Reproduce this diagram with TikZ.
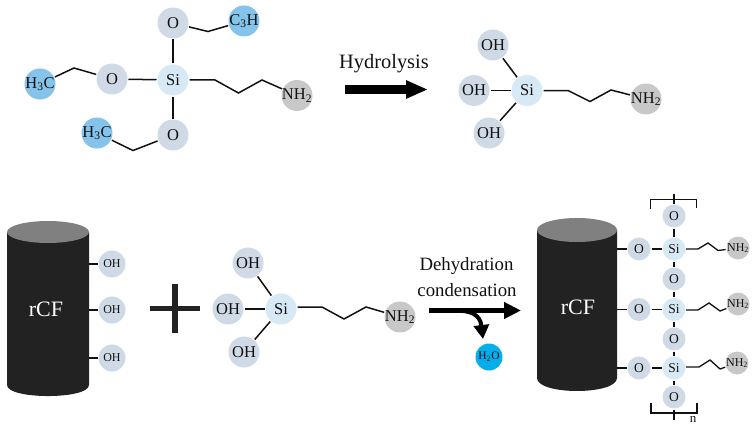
\documentclass[tikz,border=0pt]{standalone}
\usepackage{fontspec}
\setmainfont{Liberation Serif}
\usetikzlibrary{arrows.meta}
\definecolor{oxy}{HTML}{CFDAE6}
\definecolor{sil}{HTML}{D8E9F6}
\definecolor{carb}{HTML}{86C3EA}
\definecolor{amine}{HTML}{C9C8C8}
\definecolor{water}{HTML}{05AEEA}
\definecolor{fibre}{HTML}{222222}
\definecolor{fibretop}{HTML}{808080}
\definecolor{ink}{HTML}{111111}
\newcommand{\fs}[1]{\fontsize{#1}{#1}\selectfont}
\newcommand{\T}[1]{\makebox[0pt][c]{#1}}
\newcommand{\sub}[1]{\textsubscript{#1}}
\tikzset{
  atom/.style={circle,inner sep=0pt,outer sep=1pt,minimum size=31pt,text=ink,font=\fs{16.5}},
  sm/.style={atom,minimum size=23pt,font=\fs{13.5}},
  tiny/.style={atom,minimum size=27pt,font=\fs{12}},
  ox/.style={fill=oxy},
  si/.style={fill=sil},
  cc/.style={fill=carb},
  am/.style={fill=amine},
  bond/.style={draw=ink,line width=1.5pt,line join=miter},
  thinbond/.style={bond,line width=1.3pt},
  label/.style={inner sep=0pt,text=ink},
  bigarrow/.style={draw=black,-{Triangle[length=22pt,width=17pt]}},
}
\begin{document}
\begin{tikzpicture}[x=1pt,y=-1pt]
\useasboundingbox (0,0) rectangle (755,428);

% ---------- top-left molecule
\node[atom,si] (s1) at (173,80) {\T{Si}};
\node[atom,ox] (o1t) at (173,23) {\T{O}};
\node[atom,ox] (o1l) at (112,79) {\T{O}};
\node[atom,ox] (o1b) at (173,135) {\T{O}};
\node[atom,cc] (c1t) at (244,21) {\T{C\sub{3}H}};
\node[atom,cc] (c1l) at (40,84) {\T{H\sub{3}C}};
\node[atom,cc] (c1b) at (97,133) {\T{H\sub{3}C}};
\node[atom,am] (n1) at (297,95.5) {\T{NH\sub{2}}};
\coordinate (e1t) at (208,31.5);
\coordinate (e1l) at (74,68);
\coordinate (e1b) at (133,150.5);
\coordinate (a1) at (215,80);
\coordinate (a2) at (238.5,93);
\coordinate (a3) at (262,80);
\draw[bond] (s1) -- (o1t);
\draw[bond] (s1) -- (o1l);
\draw[bond] (s1) -- (o1b);
\draw[bond] (o1t) -- (e1t) -- (c1t);
\draw[bond] (c1l) -- (e1l) -- (o1l);
\draw[bond] (c1b) -- (e1b) -- (o1b);
\draw[bond] (s1) -- (a1) -- (a2) -- (a3) -- (n1);

% ---------- hydrolysis arrow
\node[label,font=\fs{20.4}] (hyd) at (384,64) {Hydrolysis};
\coordinate (h1) at (345,89.5);
\coordinate (h2) at (428,89.5);
\draw[bigarrow,line width=9pt] (h1) -- (h2);

% ---------- top-right molecule
\node[atom,si] (s2) at (527,90.5) {\T{Si}};
\node[atom,ox] (o2t) at (493,45) {\T{OH}};
\node[atom,ox] (o2m) at (474,90.5) {\T{OH}};
\node[atom,ox] (o2b) at (489,133) {\T{OH}};
\node[atom,am] (n2) at (646,99) {\T{NH\sub{2}}};
\coordinate (b1) at (568,90.5);
\coordinate (b2) at (590,101.5);
\coordinate (b3) at (611,90);
\draw[bond] (s2) -- (o2t);
\draw[bond] (s2) -- (o2m);
\draw[bond] (s2) -- (o2b);
\draw[bond] (s2) -- (b1) -- (b2) -- (b3) -- (n2);

% ---------- left fibre
\fill[fibre] (7,232) -- (7,385) .. controls (7,399.7) and (89,399.7) .. (89,385) -- (89,232) -- cycle;
\fill[fibretop] (48,232) ellipse [x radius=41,y radius=11];
\node[label,text=white,font=\fs{22}] (rcf1) at (46,309) {rCF};
\coordinate (f1) at (89,264);
\coordinate (f2) at (89,310);
\coordinate (f3) at (89,358);
\node[tiny,ox] (h1a) at (112,264) {\T{OH}};
\node[tiny,ox] (h1b) at (112,310) {\T{OH}};
\node[tiny,ox] (h1c) at (112,358) {\T{OH}};
\draw[bond] (f1) -- (h1a);
\draw[bond] (f2) -- (h1b);
\draw[bond] (f3) -- (h1c);

% ---------- plus sign
\fill[fibre] (150,305.5) rectangle (199.5,311);
\fill[fibre] (172,284) rectangle (178,333);

% ---------- middle molecule
\node[atom,si] (s3) at (281,309) {\T{Si}};
\node[atom,ox] (o3t) at (248,263) {\T{OH}};
\node[atom,ox] (o3m) at (228,309) {\T{OH}};
\node[atom,ox] (o3b) at (244,352) {\T{OH}};
\node[atom,am] (n3) at (400,317) {\T{NH\sub{2}}};
\coordinate (d0) at (297.5,307);
\coordinate (d1) at (322,307);
\coordinate (d2) at (344,319);
\coordinate (d3) at (366,307);
\draw[bond] (s3) -- (o3t);
\draw[bond] (s3) -- (o3m);
\draw[bond] (s3) -- (o3b);
\draw[bond] (d0) -- (d1) -- (d2) -- (d3) -- (n3);

% ---------- condensation arrow
\node[label,font=\fs{18.8}] (deh) at (466.5,266) {Dehydration};
\node[label,font=\fs{18.8}] (con) at (467,290) {condensation};
\coordinate (k1) at (429,310.5);
\coordinate (k2) at (521,310.5);
\coordinate (k3) at (455,310.5);
\coordinate (k4) at (483,339);
\draw[black,line width=4.5pt,-{Triangle[length=17pt,width=16pt]}] (k1) -- (k2);
\draw[black,line width=4pt,-{Triangle[length=14pt,width=15pt]}] (k3) .. controls (470,310.5) and (480,314) .. (k4);
\node[atom,minimum size=27pt,fill=water,font=\fs{11.5}] (wat) at (489,357) {\T{H\sub{2}O}};

% ---------- right fibre
\fill[fibre] (537,230) -- (537,378) .. controls (537,395.3) and (617,395.3) .. (617,378) -- (617,230) -- cycle;
\fill[fibretop] (577,230) ellipse [x radius=40,y radius=12];
\node[label,text=white,font=\fs{22}] (rcf2) at (578,307) {rCF};
\coordinate (g1) at (617,249);
\coordinate (g2) at (617,309.5);
\coordinate (g3) at (617,368);

\node[sm,si] (sa) at (674,249) {\T{Si}};
\node[sm,si] (sb) at (674,309.5) {\T{Si}};
\node[sm,si] (sc) at (674,368) {\T{Si}};
\node[sm,ox] (oa) at (639,249) {\T{O}};
\node[sm,ox] (ob) at (639,309.5) {\T{O}};
\node[sm,ox] (oc) at (639,368) {\T{O}};
\node[sm,ox] (v0) at (674,216) {\T{O}};
\node[sm,ox] (v1) at (674,279) {\T{O}};
\node[sm,ox] (v2) at (674,339) {\T{O}};
\node[sm,ox] (v3) at (674,397) {\T{O}};
\node[sm,am,font=\fs{12}] (na) at (738,248) {\T{NH\sub{2}}};
\node[sm,am,font=\fs{12}] (nb) at (738,304) {\T{NH\sub{2}}};
\node[sm,am,font=\fs{12}] (nc) at (737,363) {\T{NH\sub{2}}};

\draw[thinbond] (g1) -- (oa);
\draw[thinbond] (g2) -- (ob);
\draw[thinbond] (g3) -- (oc);
\draw[thinbond] (oa) -- (sa);
\draw[thinbond] (ob) -- (sb);
\draw[thinbond] (oc) -- (sc);
\draw[thinbond] (v0) -- (sa);
\draw[thinbond] (sa) -- (v1);
\draw[thinbond] (v1) -- (sb);
\draw[thinbond] (sb) -- (v2);
\draw[thinbond] (v2) -- (sc);
\draw[thinbond] (sc) -- (v3);

\coordinate (p0) at (686,249);
\coordinate (p1) at (698,249);
\coordinate (p2) at (708,243);
\coordinate (p3) at (718,250.5);
\coordinate (q0) at (686,310);
\coordinate (q1) at (698,310);
\coordinate (q2) at (709,303);
\coordinate (q3) at (720,311);
\coordinate (r0) at (686,367);
\coordinate (r1) at (699,367);
\coordinate (r2) at (710,360);
\coordinate (r3) at (720,369);
\draw[thinbond] (p0) -- (p1) -- (p2) -- (p3) -- (na);
\draw[thinbond] (q0) -- (q1) -- (q2) -- (q3) -- (nb);
\draw[thinbond] (r0) -- (r1) -- (r2) -- (r3) -- (nc);

% ---------- polymer brackets
\coordinate (t1) at (650.5,209);
\coordinate (t2) at (650.5,199.5);
\coordinate (t3) at (696.5,199.5);
\coordinate (t4) at (696.5,208);
\coordinate (t5) at (674,194);
\coordinate (u1) at (651,403);
\coordinate (u2) at (651,413);
\coordinate (u3) at (697,413);
\coordinate (u4) at (697,403);
\coordinate (u5) at (674,420);
\draw[thinbond] (t1) -- (t2) -- (t3) -- (t4);
\draw[thinbond] (t5) -- (v0);
\draw[thinbond] (u1) -- (u2) -- (u3) -- (u4);
\draw[thinbond] (v3) -- (u5);
\node[label,font=\fs{13}] (nn) at (693,419) {n};
\end{tikzpicture}
\end{document}
